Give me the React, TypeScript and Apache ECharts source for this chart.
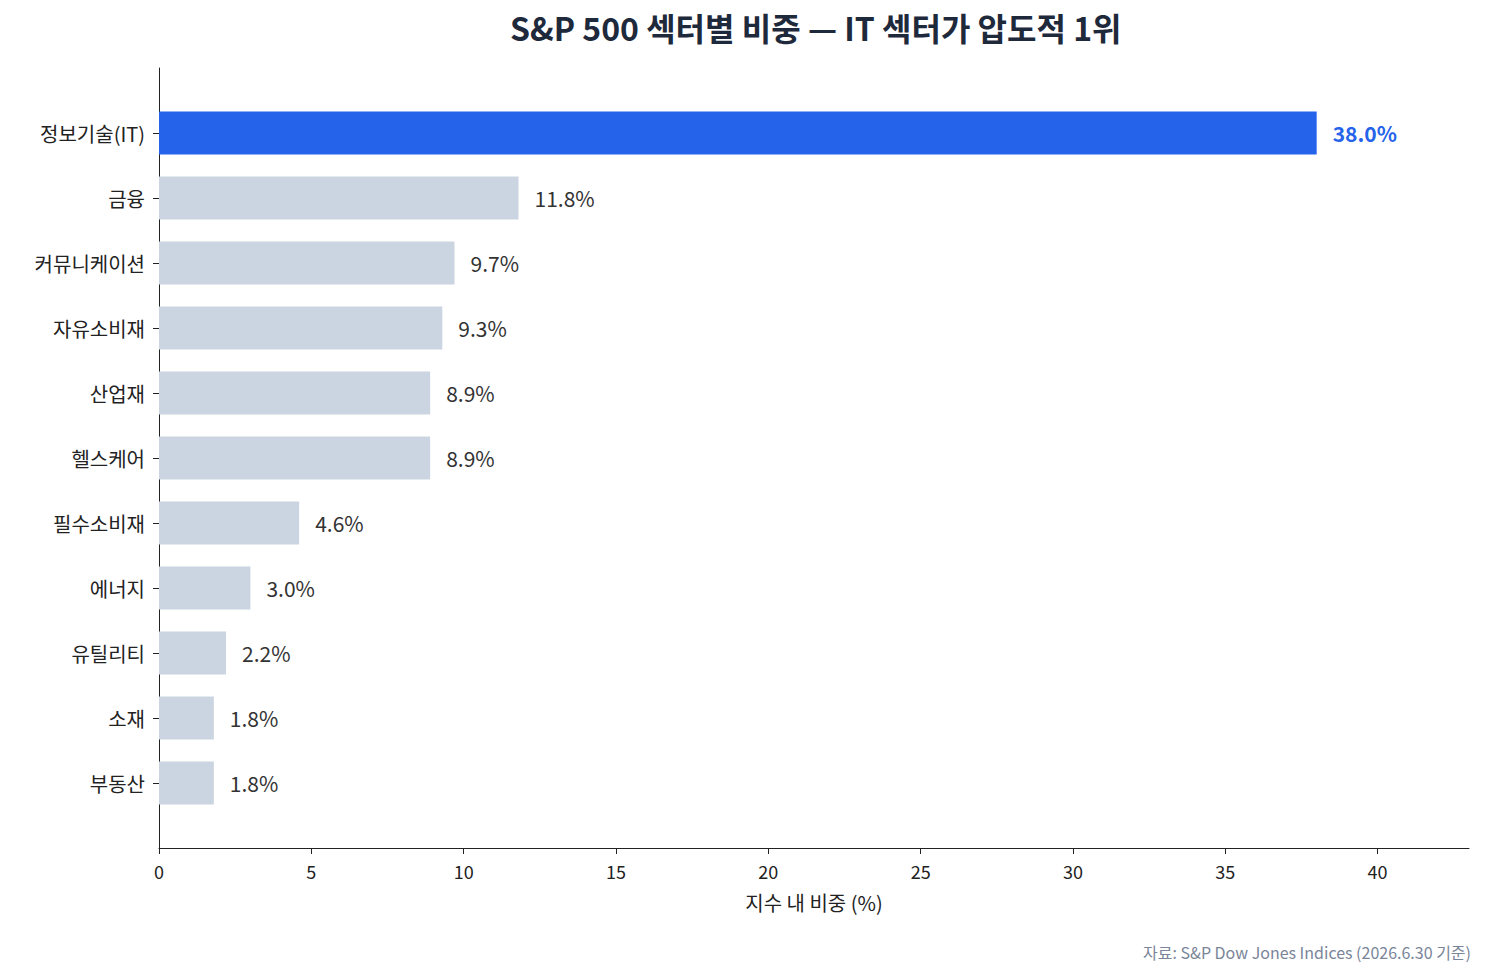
import { useEffect, useRef } from 'react'
import * as echarts from 'echarts'

const sectors = ['정보기술(IT)', '금융', '커뮤니케이션', '자유소비재', '산업재', '헬스케어', '필수소비재', '에너지', '유틸리티', '소재', '부동산']
const weights = [38.0, 11.8, 9.7, 9.3, 8.9, 8.9, 4.6, 3.0, 2.2, 1.8, 1.8]
const xTicks = [0, 5, 10, 15, 20, 25, 30, 35, 40]

const FONT = '"Noto Sans CJK KR", "Noto Sans", sans-serif'

export default function App() {
  const ref = useRef<HTMLDivElement>(null)

  useEffect(() => {
    document.body.style.margin = '0'
    if (!ref.current) return
    const chart = echarts.init(ref.current, undefined, { renderer: 'svg' })

    // blank categories at both ends give the axis some padding around the bars
    const cats = ['', ...sectors, '']
    const vals: any[] = [null, ...weights.map((v, i) => ({
      value: v,
      itemStyle: { color: i === 0 ? '#2563eb' : '#cbd5e1' },
      label: i === 0 ? { color: '#2563eb', fontWeight: 'bold' } : undefined,
    })), null]

    chart.setOption({
      animation: false,
      textStyle: { fontFamily: FONT },
      title: [
        {
          text: 'S&P 500 섹터별 비중 — IT 섹터가 압도적 1위',
          left: 505, top: 6,
          textStyle: { fontSize: 32, fontWeight: 'bold', color: '#1e293b', fontFamily: FONT },
        },
        {
          text: '자료: S&P Dow Jones Indices (2026.6.30 기준)',
          right: 16, bottom: 10,
          textStyle: { fontSize: 16, fontWeight: 'normal', color: '#7a8599', fontFamily: FONT },
        },
      ],
      grid: { left: 159, right: 23, top: 68, bottom: 127 },
      xAxis: {
        type: 'value', min: 0, max: 43,
        name: '지수 내 비중 (%)', nameLocation: 'middle', nameGap: 44,
        nameTextStyle: { fontSize: 20, color: '#222' },
        axisLine: { show: true, lineStyle: { color: '#222' } },
        axisTick: { show: true, length: 6, customValues: xTicks, lineStyle: { color: '#222' } },
        axisLabel: { fontSize: 18, color: '#222', margin: 14, customValues: xTicks },
        splitLine: { show: false },
      },
      yAxis: {
        type: 'category', data: cats, inverse: true, boundaryGap: false,
        axisLine: { show: true, lineStyle: { color: '#222' } },
        axisTick: {
          show: true, length: 6, lineStyle: { color: '#222' },
          interval: (_i: number, v: string) => v !== '',
        },
        axisLabel: { fontSize: 20, color: '#222', margin: 14, interval: 0 },
      },
      series: [
        {
          type: 'bar',
          barWidth: 43,
          data: vals,
          label: {
            show: true, position: 'right', distance: 16,
            fontSize: 21, color: '#333',
            formatter: (p: { value: number }) => p.value.toFixed(1) + '%',
          },
        },
      ],
    })

    return () => chart.dispose()
  }, [])

  return <div ref={ref} style={{ width: 1492, height: 975 }} />
}
